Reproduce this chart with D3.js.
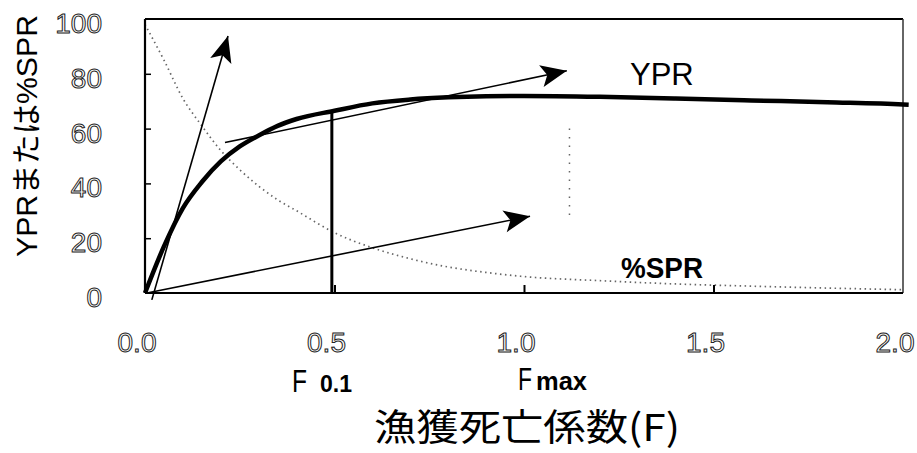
<!DOCTYPE html>
<html>
<head>
<meta charset="utf-8">
<script src="https://cdn.jsdelivr.net/npm/d3@7/dist/d3.min.js"></script>
<style>
  html, body { margin: 0; padding: 0; background: #fff; }
  svg { display: block; }
</style>
</head>
<body>
<svg id="chart" width="917" height="453"></svg>
<script>
// Fishing mortality F and the two per-recruit curves
const F   = [0, 0.05, 0.1, 0.15, 0.2, 0.25, 0.3, 0.35, 0.4, 0.5, 0.6, 0.7, 0.8, 0.9, 1.0, 1.2, 1.4, 1.6, 1.8, 2.0, 2.015];
const ypr = [0, 17, 31, 40.5, 48, 53.5, 57.5, 61, 63.5, 66.5, 69.2, 70.6, 71.4, 71.8, 71.9, 71.6, 71.0, 70.3, 69.6, 68.8, 68.7];
const spr = [98, 85, 71, 61, 52, 45, 39, 34, 30, 22, 16.5, 12.5, 9.5, 7.5, 6, 4.5, 3.3, 2.5, 1.8, 1.2, 1.2];

// Slope arrows (start F, start value, end F, end value)
const arrowF0 = [0.018, 0.211, 0.005];
const arrowY0 = [-2.5, 54.9, 0];
const arrowF1 = [0.219, 1.113, 1.016];
const arrowY1 = [93.8, 81.1, 28];

// Reference points
const F01 = 0.493;
const F01value = 66.3;
const guideF = 1.12;
const guideRange = [26.5, 60];

// Axes
const xTicks = [0, 0.5, 1.0, 1.5, 2.0];
const xTickLabels = ["0.0", "0.5", "1.0", "1.5", "2.0"];
const yTicks = [0, 20, 40, 60, 80, 100];
const yTickLabels = ["0", "20", "40", "60", "80", "100"];
const yTitle = "YPRまたは%SPR";
const xTitle = "漁獲死亡係数(F)";

const svg = d3.select("#chart");
const x = d3.scaleLinear().domain([0, 2]).range([145, 903]);
const y = d3.scaleLinear().domain([0, 100]).range([293, 19]);

const latin = "'Liberation Sans', Arial, sans-serif";
const cjk = "'Liberation Sans', 'Noto Sans CJK JP', sans-serif";

// arrowhead
svg.append("defs").append("marker")
  .attr("id", "head")
  .attr("markerUnits", "userSpaceOnUse")
  .attr("viewBox", "-27 -12 28 24")
  .attr("refX", 0).attr("refY", 0)
  .attr("markerWidth", 28).attr("markerHeight", 24)
  .attr("orient", "auto")
  .append("path")
  .attr("d", "M0,0 L-26,-11 L-20,0 L-26,11 Z")
  .attr("fill", "#000");

// frame: top and right
svg.append("line").attr("x1", x(0)).attr("x2", x(2)).attr("y1", y(100)).attr("y2", y(100))
  .attr("stroke", "#000").attr("stroke-width", 2);
svg.append("line").attr("x1", x(2)).attr("x2", x(2)).attr("y1", y(100)).attr("y2", y(0))
  .attr("stroke", "#333").attr("stroke-width", 1.5);

// %SPR dotted curve
const pts = F.map((f, i) => ({ f, ypr: ypr[i], spr: spr[i] }));
svg.append("path")
  .datum(pts.filter(d => d.f <= 2))
  .attr("fill", "none")
  .attr("stroke", "#666")
  .attr("stroke-width", 1.7)
  .attr("stroke-dasharray", "1.5,3.5")
  .attr("d", d3.line().x(d => x(d.f)).y(d => y(d.spr)).curve(d3.curveMonotoneX));

// dotted guide
svg.append("line")
  .attr("x1", x(guideF)).attr("x2", x(guideF))
  .attr("y1", y(guideRange[1])).attr("y2", y(guideRange[0]))
  .attr("stroke", "#666").attr("stroke-width", 1.5)
  .attr("stroke-dasharray", "1.5,7");

// slope arrows
arrowF0.forEach((f0, i) => {
  svg.append("line")
    .attr("x1", x(f0)).attr("y1", y(arrowY0[i]))
    .attr("x2", x(arrowF1[i])).attr("y2", y(arrowY1[i]))
    .attr("stroke", "#000").attr("stroke-width", 1.6)
    .attr("marker-end", "url(#head)");
});

// YPR curve
svg.append("path")
  .datum(pts)
  .attr("fill", "none")
  .attr("stroke", "#000")
  .attr("stroke-width", 4.5)
  .attr("stroke-linejoin", "round")
  .attr("d", d3.line().x(d => x(d.f)).y(d => y(d.ypr)).curve(d3.curveMonotoneX));

// F0.1 vertical
svg.append("line")
  .attr("x1", x(F01)).attr("x2", x(F01))
  .attr("y1", y(0)).attr("y2", y(F01value))
  .attr("stroke", "#000").attr("stroke-width", 3);

// left axis
const yAxis = svg.append("g").attr("transform", `translate(${x(0)},0)`)
  .call(d3.axisRight(y).tickValues(yTicks.slice(1, -1)).tickSize(6).tickFormat(""));
yAxis.select(".domain").attr("stroke", "#000").attr("stroke-width", 2.2).attr("d", `M0,${y(100)}V${y(0)}`);
yAxis.selectAll(".tick line").attr("stroke", "#000").attr("stroke-width", 1.5);

// bottom axis
const xAxis = svg.append("g").attr("transform", `translate(0,${y(0)})`)
  .call(d3.axisTop(x).tickValues(xTicks.slice(1, -1)).tickSize(8).tickFormat(""));
xAxis.select(".domain").attr("stroke", "#000").attr("stroke-width", 2.2).attr("d", `M${x(0)},0H${x(2)}`);
xAxis.selectAll(".tick line").attr("stroke", "#000").attr("stroke-width", 2);

// tick labels (light outlined digits)
svg.append("g").selectAll("text").data(yTicks).join("text")
  .attr("x", 102).attr("y", d => y(d) + 14)
  .attr("text-anchor", "end")
  .attr("font-family", latin).attr("font-size", 28)
  .attr("fill", "#fff").attr("stroke", "#222").attr("stroke-width", 1)
  .text((d, i) => yTickLabels[i]);

svg.append("g").selectAll("text").data(xTicks).join("text")
  .attr("x", d => x(d) - 8).attr("y", 352)
  .attr("text-anchor", "middle")
  .attr("font-family", latin).attr("font-size", 28)
  .attr("fill", "#fff").attr("stroke", "#222").attr("stroke-width", 1)
  .text((d, i) => xTickLabels[i]);

// curve labels
svg.append("text").attr("x", 630).attr("y", 85)
  .attr("font-family", latin).attr("font-size", 31).attr("fill", "#000")
  .text("YPR");
svg.append("text").attr("x", 621).attr("y", 278)
  .attr("font-family", latin).attr("font-size", 29).attr("font-weight", "bold").attr("fill", "#000")
  .attr("textLength", 82).attr("lengthAdjust", "spacingAndGlyphs")
  .text("%SPR");

// reference-point labels
const f01 = svg.append("text").attr("y", 392).attr("font-family", latin).attr("fill", "#000");
f01.append("tspan").attr("x", 292).attr("font-size", 32)
  .attr("textLength", 15).attr("lengthAdjust", "spacingAndGlyphs").text("F");
f01.append("tspan").attr("x", 320).attr("font-size", 23).attr("font-weight", "bold")
  .attr("textLength", 32).attr("lengthAdjust", "spacingAndGlyphs").text("0.1");

const fmax = svg.append("text").attr("y", 390).attr("font-family", latin).attr("fill", "#000");
fmax.append("tspan").attr("x", 518).attr("font-size", 32)
  .attr("textLength", 14).attr("lengthAdjust", "spacingAndGlyphs").text("F");
fmax.append("tspan").attr("x", 536).attr("font-size", 26).attr("font-weight", "bold")
  .attr("textLength", 51).attr("lengthAdjust", "spacingAndGlyphs").text("max");

// axis titles
svg.append("text")
  .attr("transform", "translate(37,136) rotate(-90)")
  .attr("text-anchor", "middle")
  .attr("font-family", cjk).attr("font-size", 30).attr("fill", "#000")
  .attr("textLength", 242).attr("lengthAdjust", "spacingAndGlyphs")
  .text(yTitle);

svg.append("text")
  .attr("x", 527).attr("y", 441)
  .attr("text-anchor", "middle")
  .attr("font-family", "'Noto Sans CJK JP', sans-serif").attr("font-size", 37).attr("fill", "#000")
  .attr("textLength", 306).attr("lengthAdjust", "spacingAndGlyphs")
  .text(xTitle);
</script>
</body>
</html>
